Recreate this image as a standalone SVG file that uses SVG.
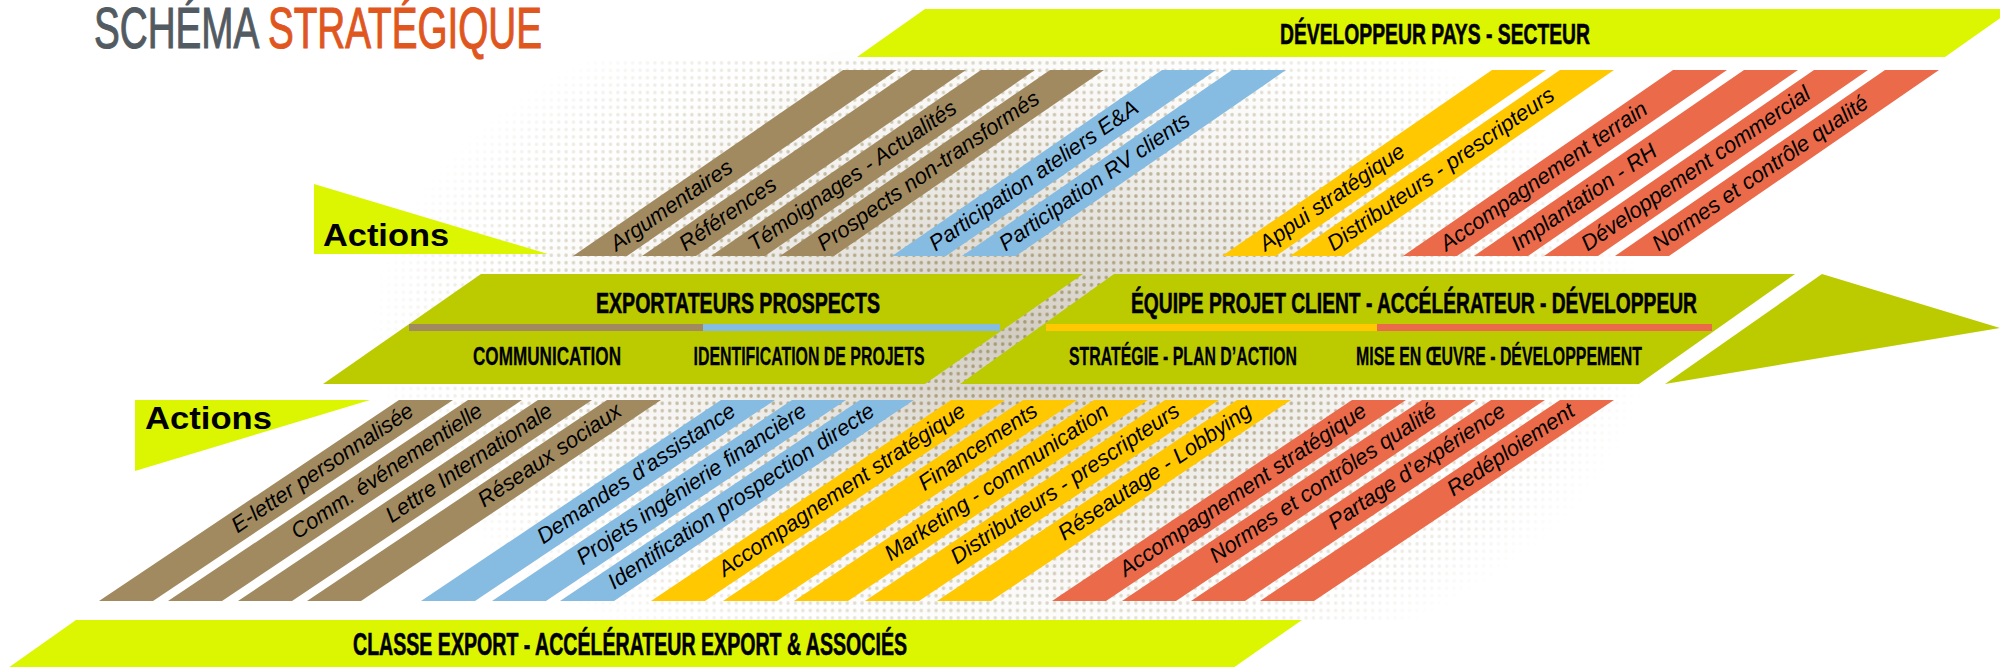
<svg xmlns="http://www.w3.org/2000/svg" width="2000" height="667" viewBox="0 0 2000 667">
<style>
.cond{font-family:"Liberation Sans",Arial,sans-serif;font-weight:bold;fill:#000;stroke:#000;stroke-width:0.6px}
.sub{font-family:"Liberation Sans",Arial,sans-serif;font-weight:bold;fill:#000;stroke:#000;stroke-width:0.3px}
.title{font-family:"Liberation Sans",Arial,sans-serif;font-size:57px;stroke-width:1.1px}
.act{font-family:"Liberation Sans",Arial,sans-serif;font-weight:bold;font-size:32px;fill:#000}
.st{font-family:"Liberation Sans",Arial,sans-serif;font-style:italic;font-size:22px;fill:#000}
.brown{fill:#a18a5f}.blue{fill:#86bbe2}.yellow{fill:#ffc800}.red{fill:#ea6a4a}
.olive{fill:#bccb00}.lime{fill:#dcf500}
</style>
<defs>
<pattern id="dots" width="7.4" height="7.4" patternUnits="userSpaceOnUse"><circle cx="3.7" cy="3.7" r="1.75" fill="#a69871"/></pattern>
<radialGradient id="washG" gradientUnits="userSpaceOnUse" cx="1010" cy="335" r="600" gradientTransform="translate(1010 335) scale(1 0.6) translate(-1010 -335)">
<stop offset="0" stop-color="#d2cdc3"/><stop offset="0.3" stop-color="#e3e0da"/><stop offset="0.6" stop-color="#f6f5f3"/><stop offset="0.85" stop-color="#ffffff"/>
</radialGradient>
<radialGradient id="dotG" gradientUnits="userSpaceOnUse" cx="1010" cy="335" r="640" gradientTransform="translate(1010 335) scale(1 0.58) translate(-1010 -335)">
<stop offset="0" stop-color="#fff"/><stop offset="0.45" stop-color="#bbb"/><stop offset="0.75" stop-color="#555"/><stop offset="1" stop-color="#000"/>
</radialGradient>
<mask id="dotMask"><rect x="0" y="0" width="2000" height="667" fill="url(#dotG)"/></mask>
</defs>
<rect x="0" y="0" width="2000" height="667" fill="#ffffff"/>
<g id="background">
<rect x="300" y="0" width="1500" height="667" fill="url(#washG)"/>
<rect x="300" y="58" width="1500" height="565" fill="url(#dots)" mask="url(#dotMask)"/>
</g>
<g id="title">
<text class="title" x="94" y="48" textLength="448" lengthAdjust="spacingAndGlyphs" fill="#535b62" stroke="#535b62">SCHÉMA <tspan fill="#e0561f" stroke="#e0561f">STRATÉGIQUE</tspan></text>
</g>
<g id="band-developpeur">
<polygon class="lime" points="925,9 2013,9 1945,57 857,57"/>
<text class="cond" x="1435" y="44" font-size="29" text-anchor="middle" textLength="310" lengthAdjust="spacingAndGlyphs">DÉVELOPPEUR PAYS - SECTEUR</text>
</g>
<g id="actions-top">
<polygon class="lime" points="314,184 548,254 314,254"/>
<text class="act" x="323" y="246" textLength="126" lengthAdjust="spacingAndGlyphs">Actions</text>
</g>
<g id="stripes-top">
<g id="s-argumentaires"><polygon class="brown" points="843,70 897,70 627,256 573,256"/><text class="st" transform="translate(600 256) rotate(-34.56)" x="16" y="6">Argumentaires</text></g>
<g id="s-references"><polygon class="brown" points="912,70 966,70 696,256 642,256"/><text class="st" transform="translate(669 256) rotate(-34.56)" x="16" y="6">Références</text></g>
<g id="s-temoignages"><polygon class="brown" points="981,70 1035,70 765,256 711,256"/><text class="st" transform="translate(738 256) rotate(-34.56)" x="16" y="6">Témoignages - Actualités</text></g>
<g id="s-prospects"><polygon class="brown" points="1050,70 1104,70 834,256 780,256"/><text class="st" transform="translate(807 256) rotate(-34.56)" x="16" y="6">Prospects non-transformés</text></g>
<g id="s-ateliers"><polygon class="blue" points="1162,70 1216,70 946,256 892,256"/><text class="st" transform="translate(919 256) rotate(-34.56)" x="16" y="6">Participation ateliers E&amp;A</text></g>
<g id="s-rv"><polygon class="blue" points="1232,70 1286,70 1016,256 962,256"/><text class="st" transform="translate(989 256) rotate(-34.56)" x="16" y="6">Participation RV clients</text></g>
<g id="s-appui"><polygon class="yellow" points="1492,70 1546,70 1276,256 1222,256"/><text class="st" transform="translate(1249 256) rotate(-34.56)" x="16" y="6">Appui stratégique</text></g>
<g id="s-distrib-top"><polygon class="yellow" points="1560,70 1614,70 1344,256 1290,256"/><text class="st" transform="translate(1317 256) rotate(-34.56)" x="16" y="6">Distributeurs - prescripteurs</text></g>
<g id="s-terrain"><polygon class="red" points="1673,70 1727,70 1457,256 1403,256"/><text class="st" transform="translate(1430 256) rotate(-34.56)" x="16" y="6">Accompagnement terrain</text></g>
<g id="s-implantation"><polygon class="red" points="1744,70 1798,70 1528,256 1474,256"/><text class="st" transform="translate(1501 256) rotate(-34.56)" x="16" y="6">Implantation - RH</text></g>
<g id="s-devcom"><polygon class="red" points="1814,70 1868,70 1598,256 1544,256"/><text class="st" transform="translate(1571 256) rotate(-34.56)" x="16" y="6">Développement commercial</text></g>
<g id="s-normes-top"><polygon class="red" points="1885,70 1939,70 1669,256 1615,256"/><text class="st" transform="translate(1642 256) rotate(-34.56)" x="16" y="6">Normes et contrôle qualité</text></g>
</g>
<g id="band-exportateurs">
<polygon class="olive" points="481,274 1083,274 925,384 323,384"/>
<rect x="409" y="324" width="294" height="7" fill="#a18a5f"/>
<rect x="703" y="324" width="297" height="7" fill="#86bbe2"/>
<text class="cond" x="738" y="313" font-size="29" text-anchor="middle" textLength="284" lengthAdjust="spacingAndGlyphs">EXPORTATEURS PROSPECTS</text>
<text class="sub" x="547" y="365" font-size="25" text-anchor="middle" textLength="148" lengthAdjust="spacingAndGlyphs">COMMUNICATION</text>
<text class="sub" x="809" y="365" font-size="25" text-anchor="middle" textLength="231" lengthAdjust="spacingAndGlyphs">IDENTIFICATION DE PROJETS</text>
</g>
<g id="band-equipe">
<polygon class="olive" points="1114,274 1795,274 1639,384 960,384"/>
<rect x="1046" y="324" width="331" height="7" fill="#ffc800"/>
<rect x="1377" y="324" width="335" height="7" fill="#ea6a4a"/>
<text class="cond" x="1414" y="313" font-size="29" text-anchor="middle" textLength="566" lengthAdjust="spacingAndGlyphs">ÉQUIPE PROJET CLIENT - ACCÉLÉRATEUR - DÉVELOPPEUR</text>
<text class="sub" x="1183" y="365" font-size="25" text-anchor="middle" textLength="228" lengthAdjust="spacingAndGlyphs">STRATÉGIE - PLAN D’ACTION</text>
<text class="sub" x="1499" y="365" font-size="25" text-anchor="middle" textLength="286" lengthAdjust="spacingAndGlyphs">MISE EN ŒUVRE - DÉVELOPPEMENT</text>
</g>
<g id="arrow">
<polygon class="olive" points="1822,274 2000,328 1665,384"/>
</g>
<g id="actions-bottom">
<polygon class="lime" points="135,400 370,400 135,471"/>
<text class="act" x="145" y="429" textLength="127" lengthAdjust="spacingAndGlyphs">Actions</text>
</g>
<g id="stripes-bottom">
<g id="s-eletter"><polygon class="brown" points="399,400 453,400 153,601 99,601"/><text class="st" transform="translate(426 400) rotate(-33.82)" x="-17" y="6" text-anchor="end">E-letter personnalisée</text></g>
<g id="s-comm"><polygon class="brown" points="468,400 522,400 222,601 168,601"/><text class="st" transform="translate(495 400) rotate(-33.82)" x="-17" y="6" text-anchor="end">Comm. événementielle</text></g>
<g id="s-lettre"><polygon class="brown" points="538,400 592,400 292,601 238,601"/><text class="st" transform="translate(565 400) rotate(-33.82)" x="-17" y="6" text-anchor="end">Lettre Internationale</text></g>
<g id="s-reseaux"><polygon class="brown" points="607,400 661,400 361,601 307,601"/><text class="st" transform="translate(634 400) rotate(-33.82)" x="-17" y="6" text-anchor="end">Réseaux sociaux</text></g>
<g id="s-demandes"><polygon class="blue" points="721,400 775,400 475,601 421,601"/><text class="st" transform="translate(748 400) rotate(-33.82)" x="-17" y="6" text-anchor="end">Demandes d’assistance</text></g>
<g id="s-ingenierie"><polygon class="blue" points="792,400 846,400 546,601 492,601"/><text class="st" transform="translate(819 400) rotate(-33.82)" x="-17" y="6" text-anchor="end">Projets ingénierie financière</text></g>
<g id="s-identification"><polygon class="blue" points="860,400 914,400 614,601 560,601"/><text class="st" transform="translate(887 400) rotate(-33.82)" x="-17" y="6" text-anchor="end">Identification prospection directe</text></g>
<g id="s-accomp-y"><polygon class="yellow" points="951,400 1005,400 705,601 651,601"/><text class="st" transform="translate(978 400) rotate(-33.82)" x="-17" y="6" text-anchor="end">Accompagnement stratégique</text></g>
<g id="s-financements"><polygon class="yellow" points="1023,400 1077,400 777,601 723,601"/><text class="st" transform="translate(1050 400) rotate(-33.82)" x="-17" y="6" text-anchor="end">Financements</text></g>
<g id="s-marketing"><polygon class="yellow" points="1094,400 1148,400 848,601 794,601"/><text class="st" transform="translate(1121 400) rotate(-33.82)" x="-17" y="6" text-anchor="end">Marketing - communication</text></g>
<g id="s-distrib-bottom"><polygon class="yellow" points="1165,400 1219,400 919,601 865,601"/><text class="st" transform="translate(1192 400) rotate(-33.82)" x="-17" y="6" text-anchor="end">Distributeurs - prescripteurs</text></g>
<g id="s-reseautage"><polygon class="yellow" points="1237,400 1291,400 991,601 937,601"/><text class="st" transform="translate(1264 400) rotate(-33.82)" x="-17" y="6" text-anchor="end">Réseautage - Lobbying</text></g>
<g id="s-accomp-r"><polygon class="red" points="1352,400 1406,400 1106,601 1052,601"/><text class="st" transform="translate(1379 400) rotate(-33.82)" x="-17" y="6" text-anchor="end">Accompagnement stratégique</text></g>
<g id="s-normes-bottom"><polygon class="red" points="1422,400 1476,400 1176,601 1122,601"/><text class="st" transform="translate(1449 400) rotate(-33.82)" x="-17" y="6" text-anchor="end">Normes et contrôles qualité</text></g>
<g id="s-partage"><polygon class="red" points="1491,400 1545,400 1245,601 1191,601"/><text class="st" transform="translate(1518 400) rotate(-33.82)" x="-17" y="6" text-anchor="end">Partage d’expérience</text></g>
<g id="s-redeploiement"><polygon class="red" points="1560,400 1614,400 1314,601 1260,601"/><text class="st" transform="translate(1587 400) rotate(-33.82)" x="-17" y="6" text-anchor="end">Redéploiement</text></g>
</g>
<g id="band-classe">
<polygon class="lime" points="76,620 1302,620 1233,668 8,668"/>
<text class="cond" x="630" y="655" font-size="31" text-anchor="middle" textLength="554" lengthAdjust="spacingAndGlyphs">CLASSE EXPORT - ACCÉLÉRATEUR EXPORT &amp; ASSOCIÉS</text>
</g>
<g id="connectors"/>
</svg>
